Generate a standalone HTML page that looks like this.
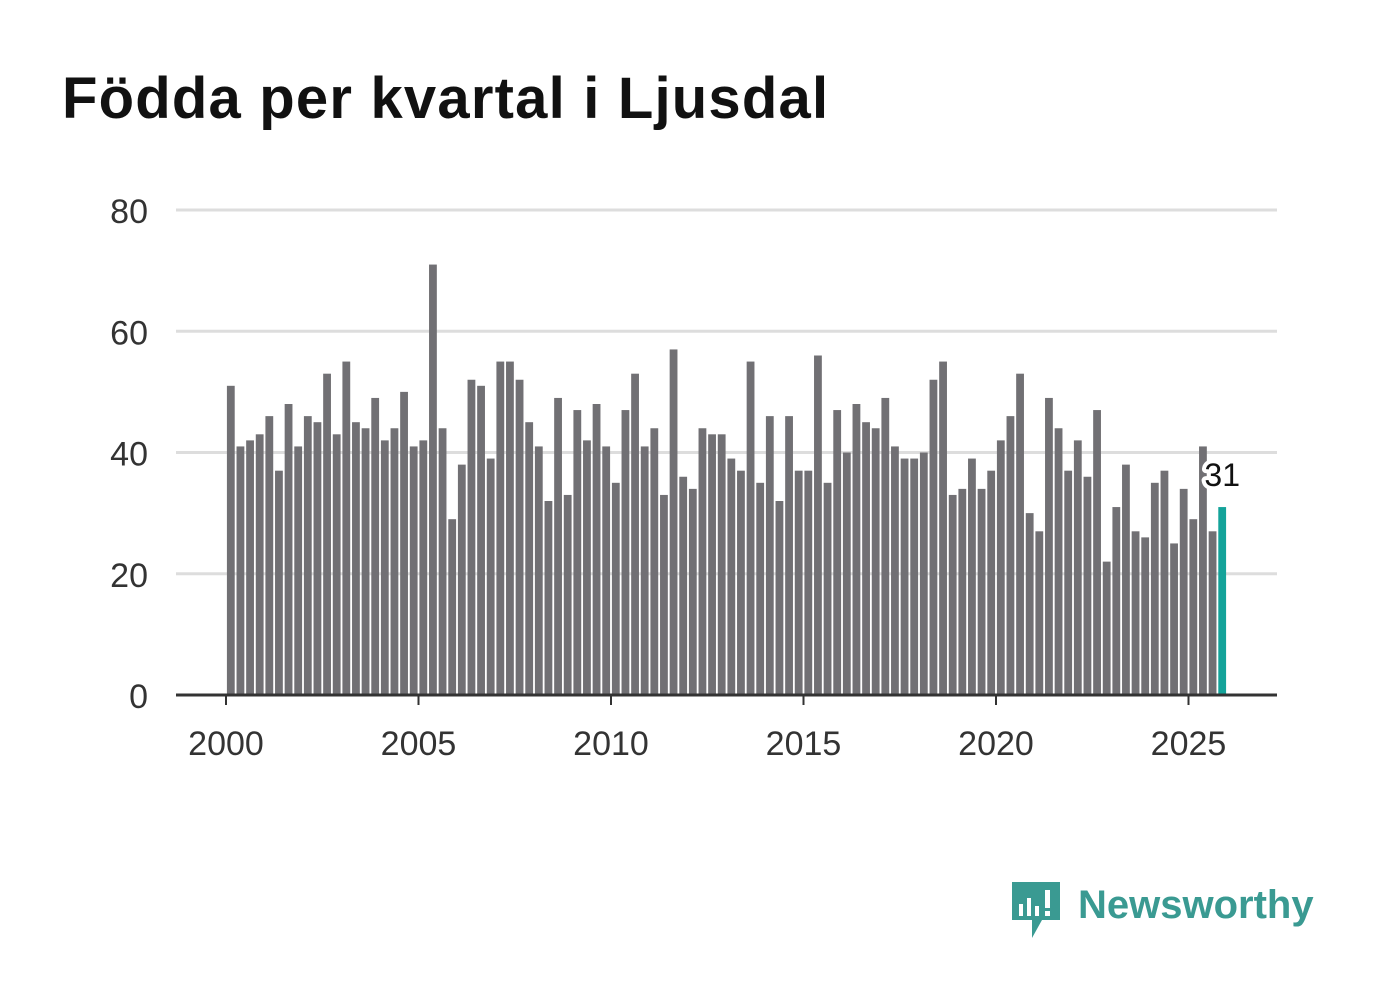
<!DOCTYPE html>
<html><head><meta charset="utf-8"><style>
body{margin:0;background:#fff;font-family:"Liberation Sans",sans-serif;}
</style></head><body>
<svg width="1382" height="999" viewBox="0 0 1382 999" xmlns="http://www.w3.org/2000/svg">
<text x="62" y="118" font-size="58" font-weight="bold" letter-spacing="1.2" fill="#111" font-family="Liberation Sans, sans-serif">Födda per kvartal i Ljusdal</text>
<g id="grid"></g><g id="bars"></g><g id="axes"></g>
<g>
<path d="M1012 882 h48 v38 h-18 l-10 18 v-18 h-20 z" fill="#3a9a92"/>
<rect x="1019" y="904" width="4" height="12" fill="#fff"/><rect x="1027" y="898" width="4" height="18" fill="#fff"/><rect x="1035" y="906" width="4" height="10" fill="#fff"/><rect x="1045" y="890" width="5" height="18" fill="#fff"/><rect x="1045" y="911" width="5" height="5" fill="#fff"/>
<text x="1078" y="918" font-size="40" font-weight="bold" fill="#3a9a92" font-family="Liberation Sans, sans-serif">Newsworthy</text>
</g>
</svg>
<script>
const years=[2000,2005,2010,2015,2020,2025];
const yTicks=[0,20,40,60,80];
const values=[51,41,42,43,46,37,48,41,46,45,53,43,55,45,44,49,42,44,50,41,42,71,44,29,38,52,51,39,55,55,52,45,41,32,49,33,47,42,48,41,35,47,53,41,44,33,57,36,34,44,43,43,39,37,55,35,46,32,46,37,37,56,35,47,40,48,45,44,49,41,39,39,40,52,55,33,34,39,34,37,42,46,53,30,27,49,44,37,42,36,47,22,31,38,27,26,35,37,25,34,29,41,27,31];
const startYear=2000;
const NS="http://www.w3.org/2000/svg";
const x=t=>226+(t-2000)*38.5;
const y=v=>695-v*6.0625;
function mk(tag,attrs,parent){const e=document.createElementNS(NS,tag);for(const k in attrs)e.setAttribute(k,attrs[k]);parent.appendChild(e);return e;}
const grid=document.getElementById('grid'),bars=document.getElementById('bars'),axes=document.getElementById('axes');
yTicks.forEach(v=>{
 if(v>0){const l=mk('line',{x1:176,x2:1277,y1:y(v),y2:y(v),stroke:'#ddd','stroke-width':3},grid);
 
 }
 const t=mk('text',{x:148,y:y(v)+13,'text-anchor':'end','font-size':34,fill:'#333'},axes);t.textContent=v;
 
 
});
values.forEach((v,i)=>{
 const cx=x(startYear+(i+0.5)/4);
 const r=mk('rect',{x:cx-3.9,y:y(v),width:7.8,height:y(0)-y(v),fill:i===values.length-1?'#14a39a':'#717074'},bars);
 
 
});
const base=mk('line',{x1:176,x2:1277,y1:695,y2:695,stroke:'#333','stroke-width':3},axes);


years.forEach(yr=>{
 mk('line',{x1:x(yr),x2:x(yr),y1:695,y2:705,stroke:'#333','stroke-width':2},axes);
 const t=mk('text',{x:x(yr),y:755,'text-anchor':'middle','font-size':34,fill:'#333'},axes);t.textContent=yr;
 
 
});
const lv=values[values.length-1],lx=x(startYear+(values.length-0.5)/4);
const lab=mk('text',{x:lx,y:y(lv)-21,'text-anchor':'middle','font-size':32,fill:'#111',stroke:'#fff','stroke-width':8,'paint-order':'stroke','stroke-linejoin':'round'},axes);
lab.textContent=lv;


</script>
</body></html>
